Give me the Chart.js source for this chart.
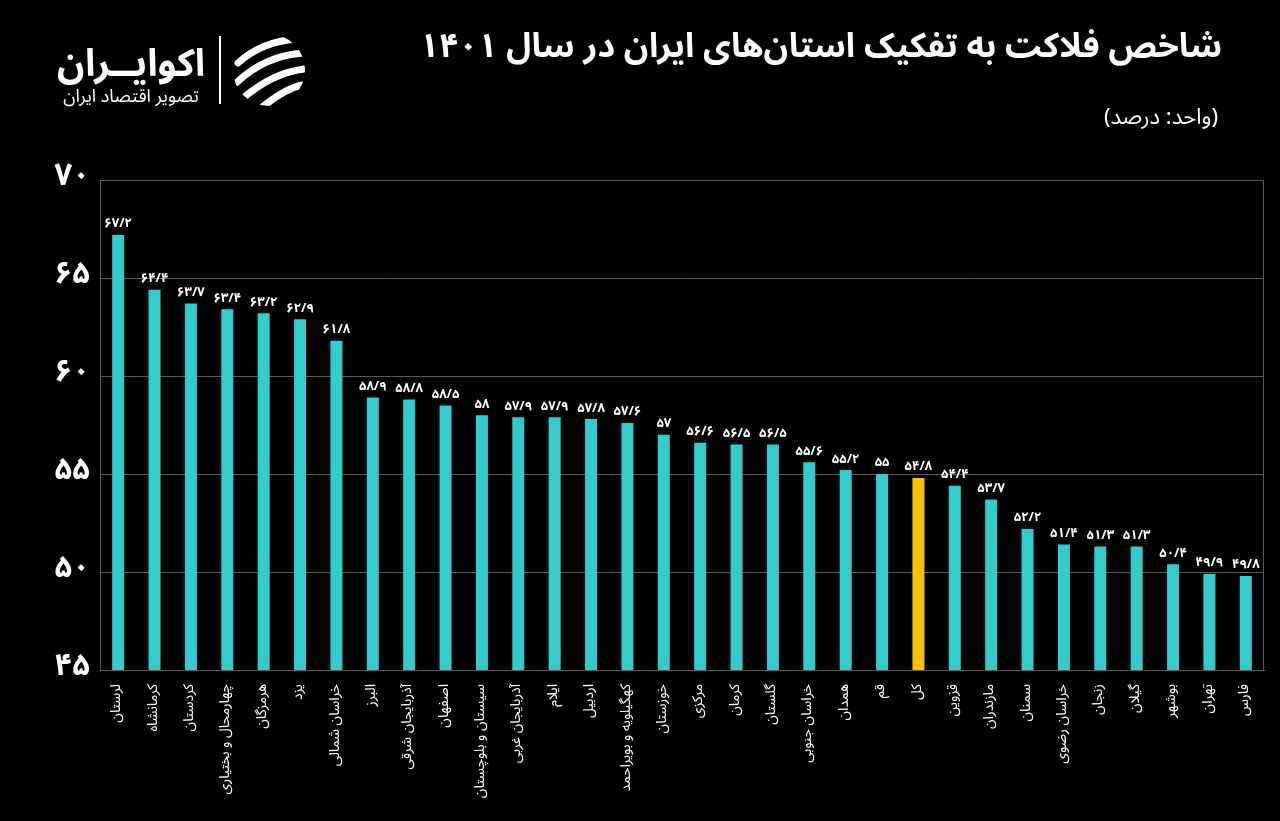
<!DOCTYPE html>
<html lang="fa">
<head>
<meta charset="utf-8">
<title>شاخص فلاکت به تفکیک استان‌های ایران در سال ۱۴۰۱</title>
<script src="https://cdn.jsdelivr.net/npm/chart.js@4.4.0/dist/chart.umd.min.js"></script>
<style>
  html, body { margin: 0; padding: 0; background: #000; overflow: hidden; }
  body { font-family: "Noto Sans Arabic", "DejaVu Sans", sans-serif; color: #fff; }
  #wrap { position: relative; width: 1280px; height: 821px; }
  #chart { position: absolute; left: 0; top: 0; }
  .title { position: absolute; right: 58px; top: 10px; font-size: 34px; font-weight: bold; direction: rtl; white-space: nowrap; }
  .unit { position: absolute; right: 62px; top: 94px; font-size: 22px; direction: rtl; white-space: nowrap; }
  .logo-name { position: absolute; left: 48px; top: 24px; width: 166px; text-align: center; font-size: 38px; font-weight: bold; direction: rtl; white-space: nowrap; }
  .logo-sub { position: absolute; left: 48px; top: 77px; width: 166px; text-align: center; font-size: 18px; direction: rtl; white-space: nowrap; }
  .logo-sep { position: absolute; left: 219px; top: 36px; width: 2px; height: 68px; background: #fff; }
  .logo-icon { position: absolute; left: 232px; top: 33px; }
</style>
</head>
<body>
<div id="wrap">
  <canvas id="chart" width="1280" height="821"></canvas>
  <div class="title">شاخص فلاکت به تفکیک استان‌های ایران در سال ۱۴۰۱</div>
  <div class="unit">(واحد: درصد)</div>
  <div class="logo-name">اکوایــران</div>
  <div class="logo-sub">تصویر اقتصاد ایران</div>
  <div class="logo-sep"></div>
  <svg class="logo-icon" width="74" height="74" viewBox="0 0 74 74">
    <defs><clipPath id="c"><circle cx="37" cy="37" r="36"/></clipPath></defs>
    <g clip-path="url(#c)" fill="none" stroke="#fff" stroke-width="7" stroke-linecap="round">
      <path d="M6 30 Q30 8 66 6"/>
      <path d="M4 50 Q34 22 72 20"/>
      <path d="M10 66 Q40 40 72 36"/>
      <path d="M28 76 Q52 56 70 52"/>
    </g>
  </svg>
</div>
<script>
// داده‌ها
const provinces = [
  'لرستان', 'کرمانشاه', 'کردستان', 'چهارمحال و بختیاری', 'هرمزگان', 'یزد',
  'خراسان شمالی', 'البرز', 'آذربایجان شرقی', 'اصفهان', 'سیستان و بلوچستان',
  'آذربایجان غربی', 'ایلام', 'اردبیل', 'کهگیلویه و بویراحمد', 'خوزستان',
  'مرکزی', 'کرمان', 'گلستان', 'خراسان جنوبی', 'همدان', 'قم', 'کل', 'قزوین',
  'مازندران', 'سمنان', 'خراسان رضوی', 'زنجان', 'گیلان', 'بوشهر', 'تهران', 'فارس'
];
const values = [
  67.2, 64.4, 63.7, 63.4, 63.2, 62.9,
  61.8, 58.9, 58.8, 58.5, 58,
  57.9, 57.9, 57.8, 57.6, 57,
  56.6, 56.5, 56.5, 55.6, 55.2, 55, 54.8, 54.4,
  53.7, 52.2, 51.4, 51.3, 51.3, 50.4, 49.9, 49.8
];
const totalName = 'کل';
const yMin = 45;
const yMax = 70;
const yStep = 5;

const BAR_COLOR = '#33cccc';
const TOTAL_COLOR = '#ffc000';
const FONT = '"Noto Sans Arabic", "DejaVu Sans", sans-serif';

// تبدیل عدد به ارقام فارسی
function toFa(n) {
  const digits = '۰۱۲۳۴۵۶۷۸۹';
  return String(n).replace(/\d/g, d => digits[d]).replace('.', '/');
}

const barColors = provinces.map(p => p === totalName ? TOTAL_COLOR : BAR_COLOR);

// برچسب مقدار بالای هر ستون
const valueLabels = {
  id: 'valueLabels',
  afterDatasetsDraw(chart) {
    const ctx = chart.ctx;
    const meta = chart.getDatasetMeta(0);
    ctx.save();
    ctx.fillStyle = '#fff';
    ctx.font = 'bold 13px ' + FONT;
    ctx.textAlign = 'center';
    ctx.textBaseline = 'bottom';
    meta.data.forEach((bar, i) => {
      ctx.fillText(toFa(values[i]), bar.x, bar.y - 3);
    });
    ctx.restore();
  }
};

// کادر دور ناحیه نمودار
const frame = {
  id: 'frame',
  beforeDatasetsDraw(chart) {
    const { ctx, chartArea: a } = chart;
    ctx.save();
    ctx.strokeStyle = '#5a5a5a';
    ctx.lineWidth = 1;
    ctx.strokeRect(a.left + 0.5, a.top + 0.5, a.right - a.left - 1, a.bottom - a.top);
    ctx.restore();
  }
};

new Chart(document.getElementById('chart').getContext('2d'), {
  type: 'bar',
  data: {
    labels: provinces,
    datasets: [{
      data: values,
      backgroundColor: barColors,
      borderWidth: 0,
      barPercentage: 0.33,
      categoryPercentage: 1
    }]
  },
  options: {
    responsive: false,
    animation: false,
    layout: { padding: { top: 180, right: 16, left: 0, bottom: 0 } },
    plugins: {
      legend: { display: false },
      tooltip: { enabled: false }
    },
    scales: {
      x: {
        grid: { display: false },
        border: { color: '#5a5a5a' },
        ticks: {
          color: '#fff',
          font: { family: FONT, size: 14 },
          minRotation: 90,
          maxRotation: 90,
          autoSkip: false,
          padding: 6
        },
        afterFit(scale) { scale.height = 151; }
      },
      y: {
        min: yMin,
        max: yMax,
        grid: { color: '#5a5a5a', drawTicks: false },
        border: { color: '#5a5a5a' },
        ticks: {
          stepSize: yStep,
          color: '#fff',
          font: { family: FONT, size: 31, weight: 'bold' },
          padding: 10,
          callback: v => toFa(v)
        },
        afterFit(scale) { scale.width = 100; }
      }
    }
  },
  plugins: [frame, valueLabels]
});
</script>
</body>
</html>
